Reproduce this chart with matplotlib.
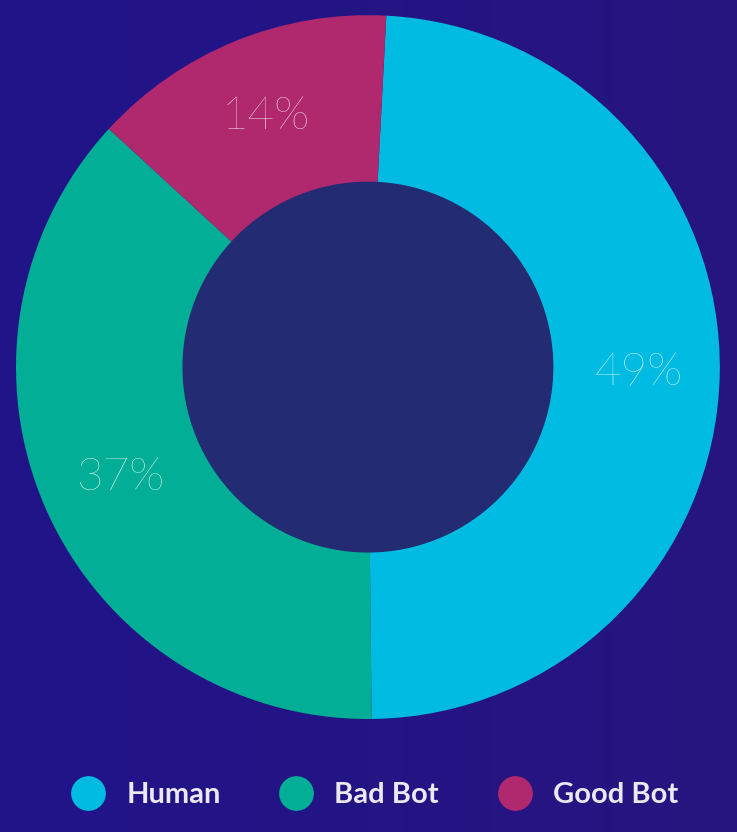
import matplotlib
matplotlib.use("Agg")
import matplotlib.pyplot as plt
from matplotlib.lines import Line2D
from matplotlib.patches import Circle

categories = ["Human", "Bad Bot", "Good Bot"]
values = [49, 37, 14]
colors = ["#00bbe1", "#02ae96", "#b0296e"]

fig = plt.figure(figsize=(7.37, 8.32), dpi=100)
bg = fig.add_axes([0, 0, 1, 1])
bg.set_axis_off()
import numpy as np
grad = np.linspace(0, 1, 256).reshape(1, -1)
bg.imshow(grad, aspect="auto", extent=[0, 1, 0, 1],
          cmap=matplotlib.colors.LinearSegmentedColormap.from_list("g", ["#21158a", "#27147f"]))

ax = fig.add_axes([0.0217, 0.1358, 0.955, 0.846])
ax.set_facecolor("none")
wedges, texts, autotexts = ax.pie(values, colors=colors, startangle=87, counterclock=False,
       autopct="%d%%", pctdistance=0.77, radius=1,
       textprops=dict(color="white", fontsize=33, family="Lato", fontweight="light"))
ax.add_patch(Circle((0, 0), 0.525, color="#232b72", zorder=5))
ax.set_xlim(-1, 1); ax.set_ylim(-1, 1); ax.set_aspect("equal")

handles = [Line2D([], [], marker="o", linestyle="", markersize=24, markerfacecolor=c,
                  markeredgecolor=c) for c in colors]
leg = fig.legend(handles, categories, loc="center", bbox_to_anchor=(0.5, 0.044), ncol=3,
                 frameon=False, handletextpad=0.3, columnspacing=1.6,
                 prop=dict(family="Lato", weight="bold", size=21))
for t in leg.get_texts():
    t.set_color("#ece8f2")
fig.savefig("out.png", dpi=100)
